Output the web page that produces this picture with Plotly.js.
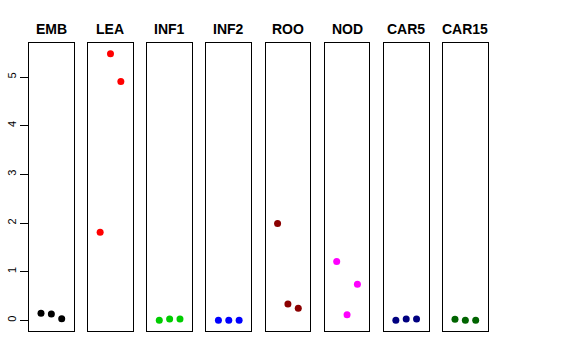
<!DOCTYPE html>
<html><head><meta charset="utf-8">
<script src="https://cdn.plot.ly/plotly-3.0.1.min.js"></script>
<style>html,body{margin:0;padding:0;background:#fff}#chart{width:576px;height:360px}</style>
</head><body><div id="chart"></div>
<script>
const categories = ['EMB','LEA','INF1','INF2','ROO','NOD','CAR5','CAR15'];
const xPositions = [1, 2, 3];
const EMB   = [0.144, 0.13, 0.034];
const LEA   = [1.81, 5.48, 4.91];
const INF1  = [0.0, 0.025, 0.028];
const INF2  = [0.001, 0.002, 0.001];
const ROO   = [1.99, 0.335, 0.246];
const NOD   = [1.21, 0.117, 0.74];
const CAR5  = [0.0, 0.025, 0.027];
const CAR15 = [0.022, 0.002, 0.0];
const seriesValues = [EMB, LEA, INF1, INF2, ROO, NOD, CAR5, CAR15];
const colors = ['#000000','#FF0000','#00CD00','#0000FF','#8B0000','#FF00FF','#000080','#006400'];
const yTickVals = [0,1,2,3,4,5];
const yTickText = ['0','1','2','3','4','5'];

const font = 'Liberation Sans, Arial, Helvetica, sans-serif';
const allVals = seriesValues.flat();
const ymin = Math.min(0, ...allVals), ymax = Math.max(...allVals);
const pad = 0.04 * (ymax - ymin);
const yRange = [ymin - pad, ymax + pad];
const xRange = [0 - 0.16, 4 + 0.16];

const pitch = 0.12885, w = 0.0974;
const traces = [];
const layout = {
  width: 576, height: 360,
  margin: {l: 29, r: 88, t: 43, b: 29, pad: 0},
  paper_bgcolor: '#fff', plot_bgcolor: '#fff',
  showlegend: false,
  font: {family: font, color: '#000'},
  annotations: []
};
categories.forEach((c, i) => {
  const sfx = i === 0 ? '' : String(i + 1);
  traces.push({
    type: 'scatter', mode: 'markers',
    x: xPositions, y: seriesValues[i],
    xaxis: 'x' + sfx, yaxis: 'y' + sfx,
    marker: {color: colors[i], size: 7, line: {width: 0}},
    hoverinfo: 'skip'
  });
  const d0 = i * pitch;
  layout['xaxis' + sfx] = {
    domain: [d0, Math.min(1, d0 + w)], range: xRange,
    showgrid: false, zeroline: false, showticklabels: false, ticks: '',
    showline: true, mirror: true, linecolor: '#000', linewidth: 1,
    anchor: 'y' + sfx, fixedrange: true
  };
  layout['yaxis' + sfx] = {
    range: yRange, anchor: 'x' + sfx,
    showgrid: false, zeroline: false,
    showline: true, mirror: true, linecolor: '#000', linewidth: 1,
    showticklabels: i === 0, ticks: i === 0 ? 'outside' : '',
    tickvals: yTickVals, ticktext: yTickText,
    ticklen: 8, tickwidth: 1, tickcolor: '#000', tickangle: -90,
    tickfont: {family: font, size: 11, color: '#000'},
    fixedrange: true
  };
  layout.annotations.push({
    text: '<b>' + c + '</b>',
    xref: 'x' + sfx + ' domain', x: 0.5, xanchor: 'center',
    yref: 'paper', y: 1, yanchor: 'bottom', yshift: 4,
    showarrow: false, font: {family: font, size: 14, color: '#000'}
  });
});
Plotly.newPlot('chart', traces, layout, {displayModeBar: false, staticPlot: true});
</script></body></html>
